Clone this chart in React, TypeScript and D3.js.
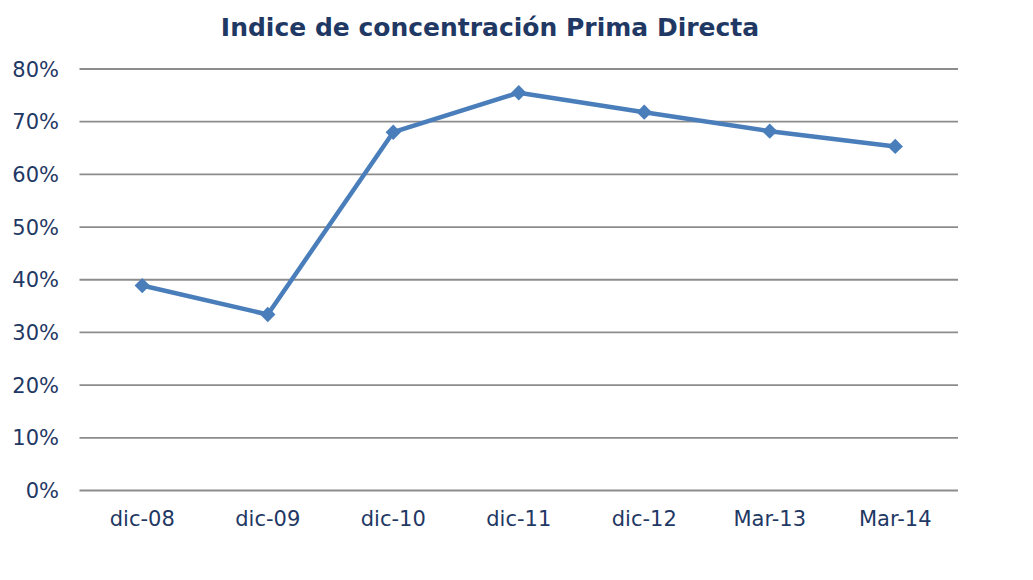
import React from "react";
import * as d3 from "d3";

const categories = ["dic-08", "dic-09", "dic-10", "dic-11", "dic-12", "Mar-13", "Mar-14"];
const values = [0.389, 0.334, 0.68, 0.755, 0.718, 0.682, 0.653];
const yTicks = [0, 0.1, 0.2, 0.3, 0.4, 0.5, 0.6, 0.7, 0.8];
const title = "Indice de concentración Prima Directa";

const W = 1033;
const H = 580;
const margin = { left: 79.5, right: 75, top: 69, bottom: 90 };
const textColor = "#1F3864";
const lineColor = "#4A7EBB";
const gridColor = "#8C8C8C";

export default function App() {
  const x = d3
    .scaleBand<string>()
    .domain(categories)
    .range([margin.left, W - margin.right])
    .paddingInner(0)
    .paddingOuter(0);
  const y = d3.scaleLinear().domain([0, 0.8]).range([490.5, margin.top]);
  const cx = (c: string) => (x(c) ?? 0) + x.bandwidth() / 2;
  const line = d3
    .line<number>()
    .x((_, i) => cx(categories[i]))
    .y((d) => y(d));
  const fmt = d3.format(".0%");
  const diamond = d3.symbol().type(d3.symbolDiamond2).size(150)() as string;

  return (
    <svg
      width={W}
      height={H}
      style={{ position: "absolute", left: 0, top: 0, background: "#fff" }}
      fontFamily="'DejaVu Sans', Verdana, sans-serif"
    >
      <rect x={0} y={0} width={W} height={H} fill="#fff" />
      <text
        x={490}
        y={36}
        textAnchor="middle"
        fontSize={25}
        fontWeight="bold"
        fill={textColor}
      >
        {title}
      </text>
      {yTicks.map((t) => (
        <g key={t}>
          <line
            x1={margin.left}
            x2={W - margin.right}
            y1={y(t)}
            y2={y(t)}
            stroke={gridColor}
            strokeWidth={1.8}
          />
          <text
            x={59}
            y={y(t)}
            dy="0.36em"
            textAnchor="end"
            fontSize={21}
            fill={textColor}
          >
            {fmt(t)}
          </text>
        </g>
      ))}
      {categories.map((c) => (
        <text
          key={c}
          x={cx(c)}
          y={526}
          textAnchor="middle"
          fontSize={21}
          fill={textColor}
        >
          {c}
        </text>
      ))}
      <path
        d={line(values) ?? ""}
        fill="none"
        stroke={lineColor}
        strokeWidth={4.5}
        strokeLinejoin="round"
      />
      {values.map((v, i) => (
        <path
          key={i}
          d={diamond}
          transform={`translate(${cx(categories[i])},${y(v)})`}
          fill={lineColor}
        />
      ))}
    </svg>
  );
}
